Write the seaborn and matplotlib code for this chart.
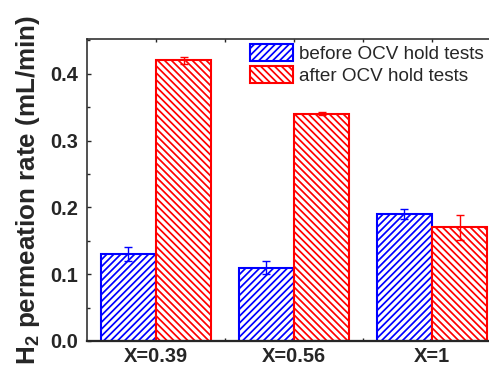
import matplotlib
matplotlib.use("Agg")
import matplotlib.pyplot as plt
import seaborn as sns
import pandas as pd
from matplotlib.ticker import MultipleLocator, FixedLocator, FormatStrFormatter

# Membrane samples and H2 permeation rates (mL/min)
samples = ["X=0.39", "X=0.56", "X=1"]
before_rate = [0.13, 0.11, 0.19]
before_err = [0.010, 0.009, 0.007]
after_rate = [0.42, 0.34, 0.17]
after_err = [0.005, 0.002, 0.019]
series_labels = ["before OCV hold tests", "after OCV hold tests"]

df = pd.DataFrame({
    "sample": samples * 2,
    "rate": before_rate + after_rate,
    "state": [series_labels[0]] * 3 + [series_labels[1]] * 3,
})

sns.set_style("ticks")
plt.rcParams["font.family"] = ["Liberation Sans", "DejaVu Sans"]
plt.rcParams["mathtext.fontset"] = "custom"
plt.rcParams["mathtext.rm"] = "Liberation Sans:bold"
plt.rcParams["mathtext.bf"] = "Liberation Sans:bold"
plt.rcParams["mathtext.it"] = "Liberation Sans:bold"
plt.rcParams["hatch.linewidth"] = 1.0

colors = ["#0000ff", "#ff0000"]
hatches = ["//////", "\\\\\\\\\\\\"]
errs = [before_err, after_err]
vals = [before_rate, after_rate]

fig = plt.figure(figsize=(489 / 125, 365 / 125), dpi=125)
ax = fig.add_axes([87 / 489, 24 / 365, 414 / 489, 302 / 365])

sns.barplot(data=df, x="sample", y="rate", hue="state", order=samples,
            hue_order=series_labels, palette=colors, errorbar=None,
            legend=False, ax=ax, width=0.8)

for cont, c, h, e, v in zip(ax.containers, colors, hatches, errs, vals):
    xs = []
    for bar in cont:
        bar.set_facecolor("white")
        bar.set_edgecolor(c)
        bar.set_hatch(h)
        bar.set_linewidth(1.2)
        xs.append(bar.get_x() + bar.get_width() / 2)
    ax.errorbar(xs, v, yerr=e, fmt="none", ecolor=c, elinewidth=0.8,
                capsize=2.2, capthick=0.8, zorder=3)

ax.set_xlim(-0.5, 2.5)
ax.set_ylim(0, 0.452)
ax.yaxis.set_major_locator(MultipleLocator(0.1))
ax.yaxis.set_minor_locator(MultipleLocator(0.05))
ax.xaxis.set_minor_locator(FixedLocator([0.5, 1.5]))
ax.yaxis.set_major_formatter(FormatStrFormatter("%.1f"))

ax.tick_params(which="both", direction="in", top=True, right=True, width=0.8)
ax.tick_params(which="major", length=2.5)
ax.tick_params(which="minor", length=2.0)
ax.tick_params(axis="y", which="major", pad=5, labelsize=11.5)
ax.tick_params(axis="x", which="major", pad=3.5, labelsize=11.5, length=2.0)
for lab in ax.get_xticklabels() + ax.get_yticklabels():
    lab.set_fontweight("bold")

for s in ax.spines.values():
    s.set_linewidth(0.9)
    s.set_visible(True)
ax.spines["bottom"].set_linewidth(1.3)

ax.set_xlabel("")
ax.set_ylabel(r"H$_2$ permeation rate (mL/min)", fontsize=15,
              fontweight="bold", labelpad=5)

ax.legend(ax.containers, series_labels, loc="upper left",
          bbox_to_anchor=(0.394, 0.982), frameon=False, fontsize=10.9,
          borderaxespad=0, borderpad=0, handlelength=2.26, handleheight=1.0,
          handletextpad=0.3, labelspacing=0.12)

fig.savefig("out.png", dpi=125)
